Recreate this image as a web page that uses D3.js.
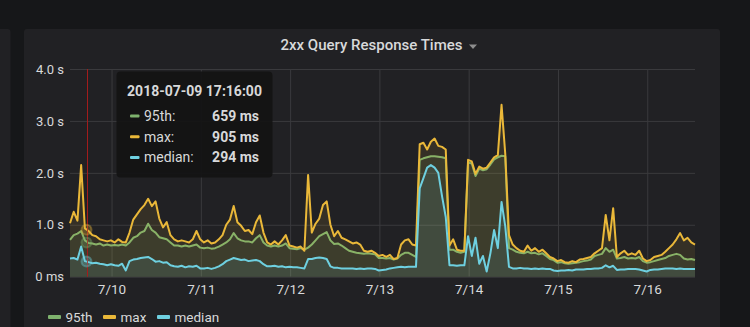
<!DOCTYPE html>
<html><head><meta charset="utf-8">
<script src="https://cdn.jsdelivr.net/npm/d3@7"></script>
<style>
html,body{margin:0;padding:0;background:#161719;overflow:hidden}
svg{display:block}
text{font-family:Roboto,"Helvetica Neue",Arial,sans-serif}
</style></head><body><svg id="c" width="750" height="327"></svg>
<script>
const title = "2xx Query Response Times";
const startTime = "2018-07-09T12:50:00Z";
const stepHours = 1;
const seriesNames = ["95th", "max", "median"];
const seriesColors = ["#7EB26D", "#EAB839", "#6ED0E0"];

const p95 = [
0.71,0.80,0.83,0.88,0.70,0.65,0.64,0.62,0.64,0.60,
0.62,0.60,0.61,0.60,0.62,0.60,0.66,0.75,0.78,0.85,
0.88,1.02,0.90,0.85,0.76,0.74,0.72,0.66,0.60,0.60,
0.58,0.60,0.58,0.60,0.62,0.56,0.55,0.56,0.54,0.55,
0.58,0.62,0.66,0.72,0.84,0.74,0.70,0.68,0.68,0.66,
0.74,0.80,0.66,0.60,0.58,0.60,0.58,0.60,0.64,0.55,
0.54,0.53,0.55,0.52,0.56,0.62,0.70,0.78,0.82,0.86,
0.70,0.63,0.64,0.60,0.55,0.50,0.48,0.46,0.45,0.44,
0.45,0.44,0.43,0.36,0.36,0.35,0.36,0.33,0.35,0.42,
0.46,0.46,0.42,0.38,2.25,2.28,2.30,2.32,2.32,2.31,
2.30,2.28,0.52,0.52,0.48,0.46,0.48,2.20,2.18,1.94,
2.08,2.05,2.07,2.16,2.26,2.30,2.33,2.32,0.55,0.52,
0.48,0.46,0.45,0.48,0.45,0.46,0.43,0.45,0.40,0.34,
0.32,0.27,0.28,0.26,0.25,0.26,0.27,0.28,0.30,0.31,
0.33,0.40,0.42,0.44,0.55,0.48,0.52,0.35,0.36,0.38,
0.35,0.36,0.35,0.38,0.30,0.27,0.28,0.30,0.32,0.34,
0.36,0.40,0.42,0.44,0.42,0.35,0.33,0.34,0.32];

const maxv = [
1.03,1.25,1.08,2.15,0.93,0.88,0.80,0.78,0.72,0.70,
0.68,0.70,0.66,0.72,0.67,0.66,0.85,1.10,1.20,1.30,
1.38,1.50,1.36,1.45,1.12,0.95,1.05,0.80,0.72,0.68,
0.70,0.68,0.66,0.72,0.88,0.72,0.66,0.70,0.64,0.66,
0.72,0.80,1.00,1.10,1.36,1.05,0.98,0.88,0.90,0.82,
1.05,1.18,0.85,0.66,0.62,0.68,0.62,0.70,0.80,0.60,
0.58,0.56,0.58,0.50,1.96,0.85,1.02,1.12,1.38,1.45,
1.00,0.78,0.88,0.75,0.72,0.68,0.64,0.66,0.62,0.50,
0.48,0.50,0.46,0.40,0.42,0.38,0.42,0.34,0.36,0.62,
0.70,0.72,0.62,0.60,2.55,2.58,2.45,2.60,2.66,2.52,
2.50,2.45,0.60,0.72,0.52,0.50,0.50,2.25,2.22,1.98,
2.12,2.08,2.10,2.20,2.30,2.34,3.31,2.36,0.80,0.62,
0.55,0.50,0.48,0.60,0.50,0.55,0.48,0.52,0.45,0.38,
0.35,0.30,0.32,0.28,0.27,0.30,0.28,0.33,0.34,0.36,
0.38,0.45,0.50,0.55,1.19,0.70,1.32,0.38,0.45,0.50,
0.42,0.45,0.42,0.50,0.35,0.30,0.32,0.38,0.40,0.42,
0.48,0.55,0.62,0.72,0.84,0.70,0.75,0.66,0.62];

const median = [
0.35,0.36,0.33,0.58,0.30,0.28,0.26,0.27,0.25,0.24,
0.22,0.24,0.22,0.21,0.25,0.12,0.30,0.33,0.34,0.36,
0.37,0.38,0.34,0.29,0.30,0.27,0.28,0.22,0.20,0.19,
0.21,0.18,0.20,0.19,0.21,0.16,0.16,0.17,0.15,0.17,
0.20,0.24,0.30,0.33,0.36,0.34,0.32,0.33,0.30,0.31,
0.32,0.30,0.24,0.20,0.20,0.21,0.19,0.20,0.18,0.19,
0.18,0.18,0.17,0.16,0.34,0.34,0.36,0.37,0.36,0.34,
0.20,0.17,0.17,0.16,0.16,0.16,0.16,0.15,0.16,0.15,
0.16,0.16,0.15,0.12,0.13,0.14,0.16,0.17,0.18,0.19,
0.18,0.19,0.19,0.19,1.70,1.90,2.10,2.15,2.10,2.00,
1.55,1.15,0.22,0.22,0.21,0.22,0.22,0.78,0.40,0.75,
0.25,0.40,0.10,0.45,0.90,0.55,1.44,0.97,0.19,0.16,
0.16,0.17,0.16,0.16,0.15,0.16,0.15,0.16,0.15,0.15,
0.12,0.11,0.12,0.12,0.13,0.12,0.14,0.14,0.14,0.15,
0.15,0.16,0.16,0.17,0.22,0.18,0.21,0.13,0.14,0.14,
0.15,0.15,0.15,0.14,0.12,0.10,0.13,0.14,0.14,0.15,
0.16,0.16,0.16,0.15,0.16,0.15,0.15,0.15,0.15];

const yTicks = [0, 1, 2, 3, 4];
const yTickLabels = ["0 ms", "1.0 s", "2.0 s", "3.0 s", "4.0 s"];
const xTickDates = ["2018-07-10","2018-07-11","2018-07-12","2018-07-13","2018-07-14","2018-07-15","2018-07-16"];
const xTickLabels = ["7/10","7/11","7/12","7/13","7/14","7/15","7/16"];

const tooltipTitle = "2018-07-09 17:16:00";
const tooltipTime = "2018-07-09T17:16:00Z";
const tooltipLabels = ["95th:", "max:", "median:"];
const tooltipNums = [0.659, 0.905, 0.294];
const tooltipTexts = ["659 ms", "905 ms", "294 ms"];

const svg = d3.select("#c");
const W = 750, H = 327;
const plot = {l: 70, r: 695, t: 69, b: 276.7};

// backgrounds
svg.append("rect").attr("x",0).attr("y",0).attr("width",W).attr("height",H).attr("fill","#161719");
svg.append("rect").attr("x",-10).attr("y",29).attr("width",20.5).attr("height",320).attr("rx",3).attr("fill","#212124");
svg.append("rect").attr("x",24).attr("y",29).attr("width",696).attr("height",320).attr("rx",3).attr("fill","#212124");

// title
svg.append("text").attr("x",371.5).attr("y",49.5).attr("text-anchor","middle")
  .attr("font-size",15).attr("font-weight",500).attr("fill","#d8d9da").text(title);
svg.append("path").attr("d","M469,44.5 L477,44.5 L473,49 Z").attr("fill","#8e8e8e");

const t0 = new Date(startTime);
const times = p95.map((_, i) => new Date(t0.getTime() + i * stepHours * 3600000));

const x = d3.scaleUtc().domain([times[0], times[times.length-1]]).range([plot.l, plot.r]);
const y = d3.scaleLinear().domain([0, 4]).range([plot.b, plot.t]);

// grid + axes
const yAxis = d3.axisLeft(y).tickValues(yTicks).tickFormat((d,i) => yTickLabels[i])
  .tickSizeInner(-(plot.r - plot.l)).tickSizeOuter(0).tickPadding(6);
const gy = svg.append("g").attr("transform",`translate(${plot.l},0)`).call(yAxis);
gy.select(".domain").remove();
gy.selectAll("line").attr("stroke","#3a3a3d").attr("stroke-width",1);
gy.selectAll("text").attr("fill","#d8d9da").attr("font-size",13).attr("font-family","Roboto,Helvetica Neue,Arial,sans-serif");

const xAxis = d3.axisBottom(x).tickValues(xTickDates.map(d => new Date(d + "T00:00:00Z")))
  .tickFormat((d,i) => xTickLabels[i]).tickSizeInner(-(plot.b - plot.t)).tickSizeOuter(0).tickPadding(8);
const gx = svg.append("g").attr("transform",`translate(0,${plot.b})`).call(xAxis);
gx.select(".domain").remove();
gx.selectAll("line").attr("stroke","#3a3a3d").attr("stroke-width",1);
gx.selectAll("text").attr("fill","#d8d9da").attr("font-size",13.5).attr("font-family","Roboto,Helvetica Neue,Arial,sans-serif");

// series
const data = [p95, maxv, median];
const area = d3.area().x((d,i) => x(times[i])).y0(y(0)).y1(d => y(d));
const line = d3.line().x((d,i) => x(times[i])).y(d => y(d));
const gs = svg.append("g");
data.forEach((vals, k) => {
  gs.append("path").attr("d", area(vals)).attr("fill", seriesColors[k]).attr("fill-opacity", 0.1);
  gs.append("path").attr("d", line(vals)).attr("fill","none").attr("stroke", seriesColors[k])
    .attr("stroke-width", 2).attr("stroke-linejoin","round");
});

// hover marker
const tx = x(new Date(tooltipTime));
svg.append("line").attr("x1",tx+1).attr("x2",tx+1).attr("y1",plot.t).attr("y2",plot.b)
  .attr("stroke","#a41d1d").attr("stroke-width",1);
tooltipNums.forEach((v,k) => {
  svg.append("circle").attr("cx",tx).attr("cy",y(v)).attr("r",5)
    .attr("fill",seriesColors[k]).attr("fill-opacity",0.25)
    .attr("stroke",seriesColors[k]).attr("stroke-opacity",0.35).attr("stroke-width",2);
});

// tooltip
const tt = svg.append("g");
tt.append("rect").attr("x",116.5).attr("y",71.5).attr("width",156).attr("height",106).attr("rx",4)
  .attr("fill","#141414").attr("fill-opacity",0.95);
tt.append("text").attr("x",194.5).attr("y",95.5).attr("text-anchor","middle")
  .attr("font-size",14).attr("font-weight",700).attr("fill","#d8d9da").text(tooltipTitle);
tooltipLabels.forEach((lab,k) => {
  const cy = 116 + k * 20.7;
  tt.append("rect").attr("x",130).attr("y",cy-1.5).attr("width",9.5).attr("height",3).attr("rx",1)
    .attr("fill",seriesColors[k]);
  tt.append("text").attr("x",144).attr("y",cy+5).attr("font-size",14).attr("fill","#d8d9da").text(lab);
  tt.append("text").attr("x",259).attr("y",cy+5).attr("text-anchor","end").attr("font-size",14)
    .attr("font-weight",700).attr("fill","#d8d9da").text(tooltipTexts[k]);
});

// legend
const legendX = [48, 103, 157];
seriesNames.forEach((n,k) => {
  svg.append("rect").attr("x",legendX[k]).attr("y",315).attr("width",13).attr("height",4).attr("rx",1)
    .attr("fill",seriesColors[k]);
  svg.append("text").attr("x",legendX[k]+17.5).attr("y",321.5).attr("font-size",13.5)
    .attr("fill","#d8d9da").text(n);
});
</script></body></html>
